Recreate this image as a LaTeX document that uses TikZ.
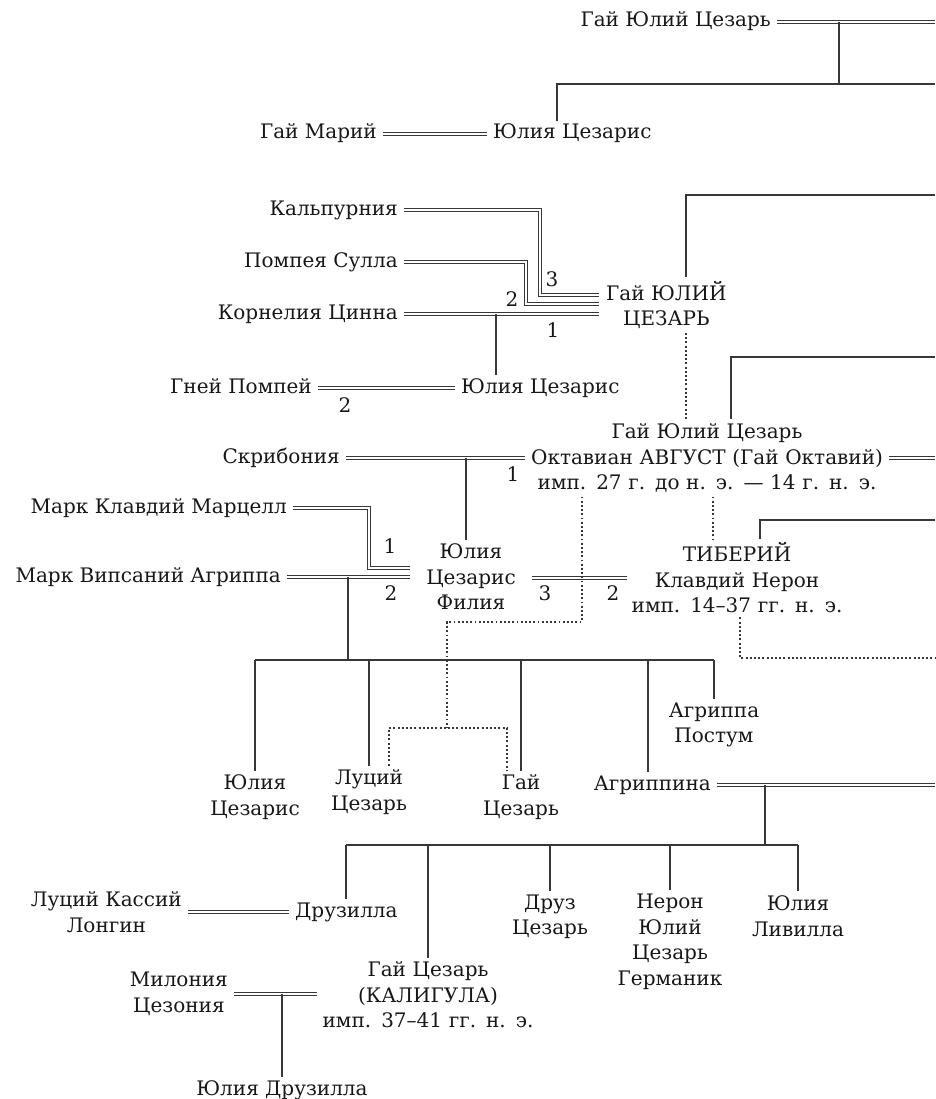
\documentclass[tikz,border=0pt]{standalone}
\usepackage{fontspec}
\setmainfont{DejaVu Serif}
\usepackage{tikz}
\usetikzlibrary{calc}
\definecolor{ink}{RGB}{25,22,23}
\definecolor{linegray}{RGB}{55,55,55}

\begin{document}
\begin{tikzpicture}[x=1pt,y=-1pt,font=\fontsize{20}{25.5}\selectfont,text=ink]
		\tikzstyle{person}=[inner xsep=6pt,inner ysep=4pt,text height=14pt,text depth=4pt];
		\tikzstyle{group}=[inner xsep=6pt,inner ysep=4pt,align=center];
		\tikzstyle{wide}=[inner xsep=0pt,inner ysep=4pt,align=center];
		\tikzstyle{num}=[inner sep=0pt];
		\tikzstyle{marriage}=[draw=linegray,double,double distance=2pt,line width=0.9pt];
		\tikzstyle{kin}=[draw=linegray,line width=1.2pt];
		\tikzstyle{adopt}=[draw=linegray,line width=1.9pt,dash pattern=on 1.9pt off 2.3pt];
		\useasboundingbox (0,0) rectangle (935,1099);

		\node[person,anchor=east](gjc) at (777,22){Гай Юлий Цезарь};
		\node[person,anchor=east](marius) at (383,134){Гай Марий};
		\node[person,anchor=west](jc1) at (487,134){Юлия Цезарис};
		\node[group,anchor=west,inner xsep=7pt](caesar) at (599,305){Гай ЮЛИЙ\\ЦЕЗАРЬ};
		\node[person,anchor=east](kalp) at (404,210){Кальпурния};
		\node[person,anchor=east](pomp) at (404,262){Помпея Сулла};
		\node[person,anchor=east](korn) at (404,314){Корнелия Цинна};
		\node[person,anchor=east](gnpomp) at (318,388){Гней Помпей};
		\node[person,anchor=west](jc2) at (455,388){Юлия Цезарис};
		\node[wide,text width=364pt](octav) at (707,458){Гай Юлий Цезарь\\Октавиан АВГУСТ (Гай Октавий)\\имп. 27 г. до н. э. — 14 г. н. э.};
		\node[person,anchor=east](scrib) at (346,458){Скрибония};
		\node[wide,text width=122pt](julia) at (471,577){Юлия\\Цезарис\\Филия};
		\node[wide,text width=220pt](tib) at (737,578){ТИБЕРИЙ\\Клавдий Нерон\\имп. 14–37 гг. н. э.};
		\node[person,anchor=east](marc) at (293,508){Марк Клавдий Марцелл};
		\node[person,anchor=east](agr) at (287,577){Марк Випсаний Агриппа};
		\node[group](jc3) at (255,797){Юлия\\Цезарис};
		\node[group](lucius) at (369,792){Луций\\Цезарь};
		\node[group](gaius) at (521,797){Гай\\Цезарь};
		\node[person,anchor=east](agrippina) at (717,785){Агриппина};
		\node[group](postumus) at (714,725){Агриппа\\Постум};
		\node[group,anchor=east](cassius) at (188,912){Луций Кассий\\Лонгин};
		\node[person,anchor=west](drusilla) at (289,912){Друзилла};
		\node[wide,text width=222pt](caligula) at (428,995){Гай Цезарь\\(КАЛИГУЛА)\\имп. 37–41 гг. н. э.};
		\node[group](drusus) at (550,917){Друз\\Цезарь};
		\node[group](nero) at (670,942){Нерон\\Юлий\\Цезарь\\Германик};
		\node[group](livilla) at (798,916){Юлия\\Ливилла};
		\node[group,anchor=east](milonia) at (234,994){Милония\\Цезония};
		\node[person](juliadr) at (282,1090){Юлия Друзилла};

		\node[num](n3a) at (552,279){3};
		\node[num](n2a) at (512,299){2};
		\node[num](n1a) at (553,330){1};
		\node[num](n2b) at (345,405){2};
		\node[num](n1b) at (513,474){1};
		\node[num](n1c) at (390,546){1};
		\node[num](n2c) at (391,593){2};
		\node[num](n3b) at (545,593){3};
		\node[num](n2d) at (613,593){2};

		\coordinate(eA) at (935,22);
		\coordinate(eB) at (935,84);
		\coordinate(eC) at (935,195);
		\coordinate(eD) at (935,357);
		\coordinate(eE) at (935,458);
		\coordinate(eF) at (935,520);
		\coordinate(eG) at (935,658);
		\coordinate(eH) at (935,785);
		\coordinate(jA) at (839,84);
		\coordinate(jB) at (557,84);
		\coordinate(jC) at (686,195);
		\coordinate(k3) at (540,295);
		\coordinate(p2) at (526,304);
		\coordinate(jD) at (496,314);
		\coordinate(jE) at (731,357);
		\coordinate(jF) at (466,458);
		\coordinate(mc) at (369,568);
		\coordinate(jG) at (760,520);
		\coordinate(dA) at (582,622);
		\coordinate(dC) at (447,728);
		\coordinate(dL) at (389,728);
		\coordinate(dG) at (507,728);
		\coordinate(dO) at (713,458);
		\coordinate(dT) at (740,658);
		\coordinate(kA) at (348,660);
		\coordinate(kAg) at (648,660);
		\coordinate(kB) at (765,845);
		\coordinate(kC) at (346,845);
		\coordinate(jJ) at (282,994);

		\draw[marriage](gjc.east)--(eA);
		\draw[kin](jA|-eA)--(jA);
		\draw[kin](eB)--(jB)--(jB|-jc1.north);
		\draw[marriage](marius)--(jc1);

		\draw[kin](eC)--(jC)--(jC|-caesar.north);
		\draw[marriage](kalp.east)-|(k3)--(k3-|caesar.west);
		\draw[marriage](pomp.east)-|(p2)--(p2-|caesar.west);
		\draw[marriage](korn.east)--(korn.east-|caesar.west);
		\draw[kin](jD)--(jD|-jc2.north);
		\draw[marriage](gnpomp)--(jc2);
		\draw[adopt](jC|-caesar.south)--(jC|-octav.north);

		\draw[kin](eD)--(jE)--(jE|-octav.north);
		\draw[marriage](scrib.east)--(scrib.east-|octav.west);
		\draw[marriage](octav.east|-eE)--(eE);
		\draw[kin](jF)--(jF|-julia.north);
		\draw[marriage](marc.east)-|(mc)--(mc-|julia.west);
		\draw[marriage](agr.east)--(agr.east-|julia.west);
		\draw[marriage](julia.east|-tib.west)--(tib.west);
		\draw[adopt](dA|-octav.south)--(dA)-|(dC);
		\draw[adopt](dL|-lucius.north)--(dL)--(dG)--(dG|-gaius.north);
		\draw[adopt](dO|-octav.south)--(dO|-tib.north);
		\draw[kin](eF)--(jG)--(jG|-tib.north);
		\draw[adopt](dT|-tib.south)--(dT)--(eG);

		\draw[kin](kA|-agr.east)--(kA);
		\draw[kin](jc3.north|-kA)--(postumus.north|-kA);
		\draw[kin](jc3.north|-kA)--(jc3.north);
		\draw[kin](lucius.north|-kA)--(lucius.north);
		\draw[kin](gaius.north|-kA)--(gaius.north);
		\draw[kin](kAg)--(kAg|-agrippina.north);
		\draw[kin](postumus.north|-kA)--(postumus.north);

		\draw[marriage](agrippina.east)--(eH);
		\draw[kin](kB|-agrippina.east)--(kB);
		\draw[kin](kC)--(livilla.north|-kB);
		\draw[kin](kC)--(kC|-drusilla.north);
		\draw[kin](caligula.north|-kB)--(caligula.north);
		\draw[kin](drusus.north|-kB)--(drusus.north);
		\draw[kin](nero.north|-kB)--(nero.north);
		\draw[kin](livilla.north|-kB)--(livilla.north);
		\draw[marriage](cassius.east|-drusilla.west)--(drusilla.west);
		\draw[marriage](milonia.east)--(milonia.east-|caligula.west);
		\draw[kin](jJ)--(jJ|-juliadr.north);
	\end{tikzpicture}
\end{document}
